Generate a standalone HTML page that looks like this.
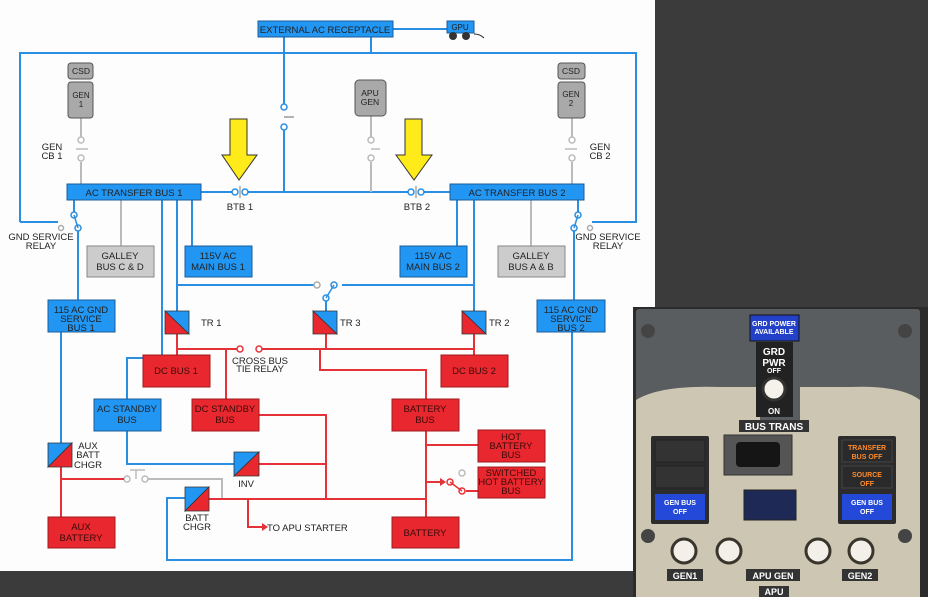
<!DOCTYPE html><html><head><style>
html,body{margin:0;padding:0;background:#3b3b3b;width:928px;height:597px;overflow:hidden}
svg{display:block}
text{font-family:"Liberation Sans",sans-serif}
</style></head><body>
<svg width="928" height="597" viewBox="0 0 928 597" xmlns="http://www.w3.org/2000/svg">
<rect x="0" y="0" width="928" height="597" fill="#3b3b3b"/>
<rect x="0" y="0" width="655" height="571" fill="#fdfdfd"/>
<g font-size="9.5" fill="#333" text-anchor="middle">
<!-- blue lines -->
<g stroke="#2a8fe0" stroke-width="2" fill="none">
<path d="M20 222V53H636V222H592"/><path d="M20 222H58"/>
<line x1="393" y1="29" x2="447" y2="29"/>
<path d="M284 37V104M284 130V192"/><line x1="371" y1="37" x2="371" y2="53"/>
<path d="M201 192H232M248 192H408M424 192H450"/>
<path d="M74 200V212M78 228V300"/>
<path d="M578 200V212M574 228V300"/>
<path d="M162 200V358H127V399"/>
<path d="M177 200V311"/><path d="M192 200V246"/>
<path d="M177 285H314"/><path d="M342 285H474"/>
<path d="M474 200V311"/><path d="M457 200V246"/>
<path d="M326 301V311"/>
<path d="M61 332V443"/>
<path d="M572 332V560H167V498H185"/>
<path d="M127 431V464H234"/>
</g>
<!-- switches blue -->
<g stroke="#2a8fe0" stroke-width="1.5" fill="#fff">
<circle cx="284" cy="107" r="3"/><circle cx="284" cy="127" r="3"/>
<line x1="284" y1="117" x2="294" y2="117" stroke="#999"/>
<circle cx="235" cy="192" r="3"/><circle cx="245" cy="192" r="3"/>
<circle cx="411" cy="192" r="3"/><circle cx="421" cy="192" r="3"/>
<circle cx="74" cy="215" r="3"/><circle cx="78" cy="228" r="3"/><line x1="74" y1="215" x2="78" y2="228"/>
<circle cx="578" cy="215" r="3"/><circle cx="574" cy="228" r="3"/><line x1="578" y1="215" x2="574" y2="228"/>
<circle cx="334" cy="285" r="3"/><circle cx="326" cy="298" r="3"/><line x1="334" y1="285" x2="326" y2="298"/>
</g>
<g stroke="#aaa" stroke-width="1.5" fill="#fff">
<circle cx="61" cy="228" r="2.5"/><circle cx="590" cy="228" r="2.5"/>
<circle cx="317" cy="285" r="3"/>
<line x1="240" y1="186" x2="240" y2="198"/><line x1="416" y1="186" x2="416" y2="198"/>
</g>
<!-- gray lines -->
<g stroke="#bbb" stroke-width="2" fill="none">
<path d="M81 118V137M81 162V184"/><path d="M371 116V137M371 162V192"/><path d="M572 118V137M572 162V184"/>
<path d="M121 200V246"/><path d="M531 200V246"/>
<path d="M145 479H222V498"/>
</g>
<g stroke="#bbb" stroke-width="1.5" fill="#fff">
<circle cx="81" cy="140" r="3"/><circle cx="81" cy="158" r="3"/><line x1="76" y1="149" x2="88" y2="149"/>
<circle cx="371" cy="140" r="3"/><circle cx="371" cy="158" r="3"/><line x1="371" y1="149" x2="380" y2="149"/>
<circle cx="572" cy="140" r="3"/><circle cx="572" cy="158" r="3"/><line x1="565" y1="149" x2="577" y2="149"/>
<circle cx="127" cy="479" r="3"/><circle cx="145" cy="479" r="3"/><line x1="136" y1="470" x2="136" y2="479"/><line x1="130" y1="470" x2="145" y2="470"/>
<circle cx="462" cy="473" r="3"/>
</g>
<!-- red lines -->
<g stroke="#e53238" stroke-width="2" fill="none">
<path d="M177 334V355"/><path d="M474 334V355"/>
<path d="M177 349H237M262 349H474"/>
<path d="M226 349V399"/>
<path d="M326 334V349M320 349V370H426V399"/>
<path d="M259 415H326V499"/><path d="M259 464H326"/>
<path d="M426 431V517"/><path d="M426 445H478"/>
<path d="M426 482H440"/><path d="M466 491L478 491"/>
<path d="M209 499H426"/>
<path d="M248 499V527H262"/>
<path d="M61 467V517"/><path d="M61 479H124"/>
</g>
<g stroke="#e53238" stroke-width="1.5" fill="#fff">
<circle cx="240" cy="349" r="3"/><circle cx="259" cy="349" r="3"/>
<circle cx="450" cy="482" r="3"/><circle cx="462" cy="491" r="3"/><line x1="450" y1="482" x2="462" y2="491"/>
</g>
<polygon points="440,478 446,482 440,486" fill="#e53238"/>
<polygon points="262,523 268,527 262,531" fill="#e53238"/>
<!-- boxes blue -->
<g fill="#2196f3" stroke="#1a5f9a" stroke-width="1">
<rect x="258" y="21" width="135" height="16"/>
<rect x="67" y="184" width="134" height="16"/><rect x="450" y="184" width="134" height="16"/>
<rect x="185" y="246" width="67" height="31"/><rect x="400" y="246" width="67" height="31"/>
<rect x="48" y="300" width="67" height="32"/><rect x="537" y="300" width="68" height="32"/>
<rect x="94" y="399" width="67" height="32"/>
</g>
<g fill="#ccc" stroke="#888"><rect x="87" y="246" width="67" height="31"/><rect x="498" y="246" width="67" height="31"/></g>
<g fill="#e8282e" stroke="#a01a1e">
<rect x="143" y="355" width="67" height="32"/><rect x="441" y="355" width="67" height="32"/>
<rect x="192" y="399" width="67" height="32"/><rect x="392" y="399" width="67" height="32"/>
<rect x="478" y="430" width="67" height="32"/><rect x="478" y="467" width="67" height="31"/>
<rect x="392" y="517" width="67" height="31"/><rect x="48" y="517" width="67" height="31"/>
</g>
<!-- converters -->
<g stroke="#333" stroke-width="0.8">
<polygon points="165,311 189,311 189,334" fill="#2196f3"/><polygon points="165,311 165,334 189,334" fill="#e8282e"/>
<polygon points="313,311 337,311 337,334" fill="#2196f3"/><polygon points="313,311 313,334 337,334" fill="#e8282e"/>
<polygon points="462,311 486,311 486,334" fill="#2196f3"/><polygon points="462,311 462,334 486,334" fill="#e8282e"/>
<polygon points="48,443 72,443 48,467" fill="#2196f3"/><polygon points="72,443 72,467 48,467" fill="#e8282e"/>
<polygon points="234,452 259,452 234,476" fill="#2196f3"/><polygon points="259,452 259,476 234,476" fill="#e8282e"/>
<polygon points="185,487 209,487 185,511" fill="#2196f3"/><polygon points="209,487 209,511 185,511" fill="#e8282e"/>
</g>
<!-- generators -->
<g fill="#a9a9a9" stroke="#555">
<rect x="68" y="63" width="25" height="16" rx="3"/><rect x="68" y="82" width="25" height="36" rx="3"/>
<rect x="558" y="63" width="27" height="16" rx="3"/><rect x="558" y="82" width="27" height="36" rx="3"/>
<rect x="355" y="80" width="31" height="36" rx="4"/>
</g>
<!-- GPU -->
<rect x="447" y="21" width="27" height="12" fill="#2196f3" stroke="#1a5f9a"/>
<circle cx="453" cy="36" r="4" fill="#333"/><circle cx="466" cy="36" r="4" fill="#333"/>
<path d="M474 34Q480 34 484 38" stroke="#333" fill="none"/>
<!-- arrows -->
<g fill="#ffeb1a" stroke="#333" stroke-width="1">
<polygon points="230,119 247,119 247,155 257,155 239,180 222,155 230,155"/>
<polygon points="405,119 422,119 422,155 432,155 414,180 396,155 405,155"/>
</g>
<!-- text -->
<g fill="#222" font-size="9.5">
<text x="325" y="33">EXTERNAL AC RECEPTACLE</text>
<text x="460" y="30" font-size="8">GPU</text>
<text x="134" y="196">AC TRANSFER BUS 1</text><text x="517" y="196">AC TRANSFER BUS 2</text>
<text x="218" y="259">115V AC</text><text x="218" y="270">MAIN BUS 1</text>
<text x="433" y="259">115V AC</text><text x="433" y="270">MAIN BUS 2</text>
<text x="81" y="313">115 AC GND</text><text x="81" y="322">SERVICE</text><text x="81" y="331">BUS 1</text>
<text x="571" y="313">115 AC GND</text><text x="571" y="322">SERVICE</text><text x="571" y="331">BUS 2</text>
<text x="127" y="412">AC STANDBY</text><text x="127" y="423">BUS</text>
</g>
<g fill="#222" font-size="9.5">
<text x="120" y="259">GALLEY</text><text x="120" y="270">BUS C &amp; D</text>
<text x="531" y="259">GALLEY</text><text x="531" y="270">BUS A &amp; B</text>
<text x="81" y="74" font-size="8.5">CSD</text><text x="81" y="98" font-size="8">GEN</text><text x="81" y="107" font-size="8">1</text>
<text x="571" y="74" font-size="8.5">CSD</text><text x="571" y="97" font-size="8">GEN</text><text x="571" y="106" font-size="8">2</text>
<text x="370" y="96" font-size="8.5">APU</text><text x="370" y="105" font-size="8.5">GEN</text>
<text x="52" y="150">GEN</text><text x="52" y="159">CB 1</text>
<text x="600" y="150">GEN</text><text x="600" y="159">CB 2</text>
<text x="240" y="210">BTB 1</text><text x="417" y="210">BTB 2</text>
<text x="41" y="240">GND SERVICE</text><text x="41" y="249">RELAY</text>
<text x="608" y="240">GND SERVICE</text><text x="608" y="249">RELAY</text>
<text x="201" y="326" text-anchor="start">TR 1</text><text x="340" y="326" text-anchor="start">TR 3</text><text x="489" y="326" text-anchor="start">TR 2</text>
<text x="260" y="364">CROSS BUS</text><text x="260" y="372">TIE RELAY</text>
<text x="88" y="449">AUX</text><text x="88" y="458">BATT</text><text x="88" y="468">CHGR</text>
<text x="246" y="487">INV</text>
<text x="197" y="521">BATT</text><text x="197" y="530">CHGR</text>
<text x="267" y="531" text-anchor="start">TO APU STARTER</text>
</g>
<g fill="#3a0a0a" font-size="9.5">
<text x="176" y="374">DC BUS 1</text><text x="474" y="374">DC BUS 2</text>
<text x="225" y="412">DC STANDBY</text><text x="225" y="423">BUS</text>
<text x="425" y="412">BATTERY</text><text x="425" y="423">BUS</text>
<text x="511" y="440">HOT</text><text x="511" y="449">BATTERY</text><text x="511" y="458">BUS</text>
<text x="511" y="476">SWITCHED</text><text x="511" y="485">HOT BATTERY</text><text x="511" y="494">BUS</text>
<text x="425" y="536">BATTERY</text>
<text x="81" y="530">AUX</text><text x="81" y="541">BATTERY</text>
</g>
</g>
<!-- panel -->
<g>
<rect x="633" y="307" width="295" height="290" fill="#2b2b2b"/>
<rect x="636" y="309" width="284" height="288" fill="#5a5d5f" rx="3"/>
<path d="M636 400Q660 385 720 387H760V420H800V387H850Q900 385 920 400V597H636Z" fill="#cdc6b2"/>
<rect x="750" y="315" width="49" height="26" fill="#2340c8" stroke="#111"/>
<text x="774" y="326" font-size="7" fill="#fff" text-anchor="middle" font-weight="bold">GRD POWER</text>
<text x="774" y="334" font-size="7" fill="#fff" text-anchor="middle" font-weight="bold">AVAILABLE</text>
<rect x="756" y="342" width="37" height="75" fill="#222"/>
<text x="774" y="355" font-size="10" fill="#fff" text-anchor="middle" font-weight="bold">GRD</text>
<text x="774" y="366" font-size="10" fill="#fff" text-anchor="middle" font-weight="bold">PWR</text>
<text x="774" y="373" font-size="7" fill="#fff" text-anchor="middle" font-weight="bold">OFF</text>
<circle cx="774" cy="389" r="11" fill="#f4f2ea" stroke="#333" stroke-width="3"/>
<text x="774" y="414" font-size="8" fill="#fff" text-anchor="middle" font-weight="bold">ON</text>
<rect x="739" y="420" width="70" height="12" fill="#333"/>
<text x="774" y="430" font-size="10" fill="#fff" text-anchor="middle" font-weight="bold">BUS TRANS</text>
<rect x="724" y="435" width="68" height="40" fill="#555" stroke="#333"/>
<rect x="736" y="442" width="44" height="25" rx="4" fill="#151515"/>
<rect x="651" y="436" width="58" height="88" fill="#2c2c2c" rx="2"/>
<rect x="838" y="436" width="58" height="88" fill="#2c2c2c" rx="2"/>
<rect x="655" y="440" width="50" height="22" fill="#333" stroke="#222"/>
<rect x="655" y="466" width="50" height="22" fill="#333" stroke="#222"/>
<rect x="842" y="440" width="50" height="22" fill="#2a2a2a" stroke="#444"/>
<text x="867" y="450" font-size="7" fill="#ff8a2a" text-anchor="middle" font-weight="bold">TRANSFER</text>
<text x="867" y="459" font-size="7" fill="#ff8a2a" text-anchor="middle" font-weight="bold">BUS OFF</text>
<rect x="842" y="466" width="50" height="22" fill="#2a2a2a" stroke="#444"/>
<text x="867" y="477" font-size="7" fill="#ff8a2a" text-anchor="middle" font-weight="bold">SOURCE</text>
<text x="867" y="486" font-size="7" fill="#ff8a2a" text-anchor="middle" font-weight="bold">OFF</text>
<rect x="655" y="494" width="50" height="26" fill="#2449d8"/>
<text x="680" y="505" font-size="7" fill="#fff" text-anchor="middle" font-weight="bold">GEN BUS</text>
<text x="680" y="514" font-size="7" fill="#fff" text-anchor="middle" font-weight="bold">OFF</text>
<rect x="842" y="494" width="50" height="26" fill="#2449d8"/>
<text x="867" y="505" font-size="7" fill="#fff" text-anchor="middle" font-weight="bold">GEN BUS</text>
<text x="867" y="514" font-size="7" fill="#fff" text-anchor="middle" font-weight="bold">OFF</text>
<rect x="744" y="490" width="52" height="30" fill="#1e2a55" stroke="#222"/>
<g fill="#f2f0e8" stroke="#3a352c" stroke-width="3">
<circle cx="684" cy="551" r="12"/><circle cx="729" cy="551" r="12"/><circle cx="818" cy="551" r="12"/><circle cx="861" cy="551" r="12"/>
</g>
<g font-size="9" fill="#fff" font-weight="bold" text-anchor="middle">
<rect x="667" y="569" width="36" height="12" fill="#333"/><text x="685" y="579">GEN1</text>
<rect x="746" y="569" width="54" height="12" fill="#333"/><text x="773" y="579">APU GEN</text>
<rect x="842" y="569" width="36" height="12" fill="#333"/><text x="860" y="579">GEN2</text>
<rect x="759" y="586" width="30" height="11" fill="#333"/><text x="774" y="595">APU</text>
</g>
<g fill="#444"><circle cx="648" cy="331" r="7"/><circle cx="905" cy="331" r="7"/><circle cx="648" cy="536" r="7"/><circle cx="905" cy="536" r="7"/></g>
</g>
</svg>
</body></html>
